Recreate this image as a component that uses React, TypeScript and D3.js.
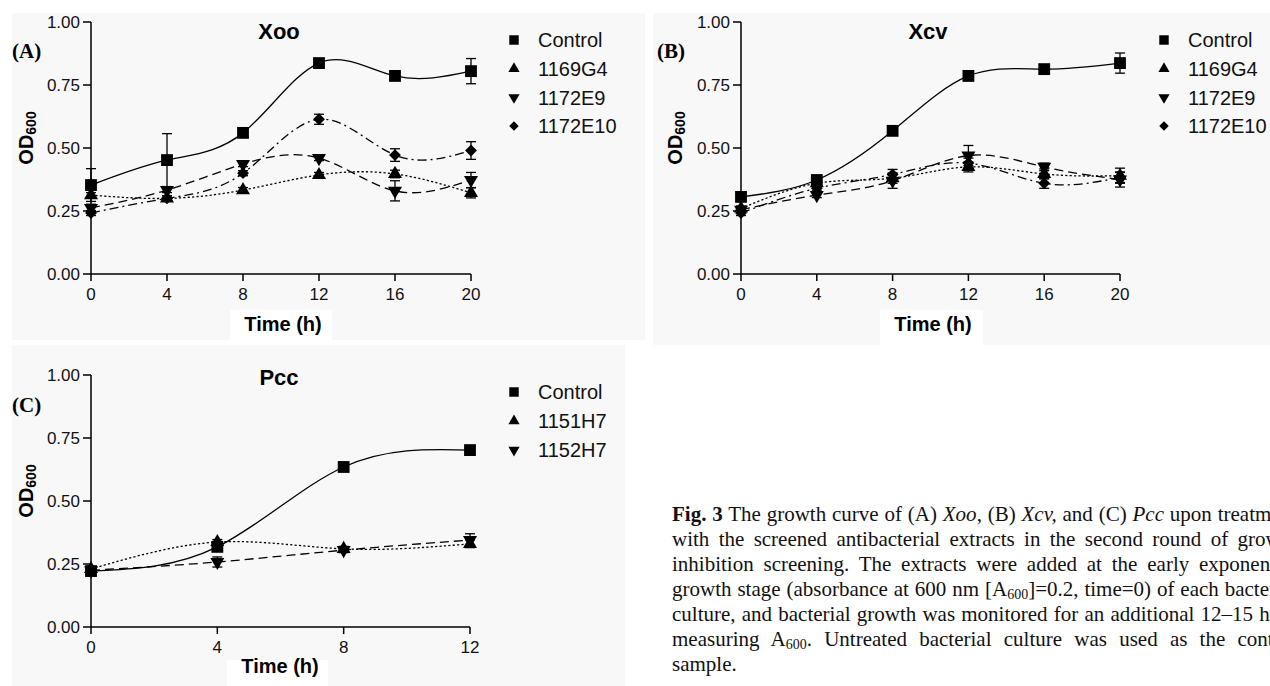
import React, { useLayoutEffect, useRef } from "react";
import * as d3 from "d3";

// ---------- data ----------
const timesAB = [0, 4, 8, 12, 16, 20];
const timesC = [0, 4, 8, 12];
const yTickValues = [0, 0.25, 0.5, 0.75, 1.0];
const xTicksAB = [0, 4, 8, 12, 16, 20];
const xTicksC = [0, 4, 8, 12];

const namesXoo = ["Control", "1169G4", "1172E9", "1172E10"];
const xooControl = [0.353, 0.452, 0.56, 0.837, 0.786, 0.805];
const xooControlErr = [0.065, 0.105, 0.01, 0.01, 0.01, 0.05];
const xoo1169G4 = [0.313, 0.3, 0.333, 0.393, 0.397, 0.322];
const xoo1169G4Err = [0.01, 0.01, 0.01, 0.01, 0.015, 0.02];
const xoo1172E9 = [0.262, 0.333, 0.436, 0.46, 0.33, 0.373];
const xoo1172E9Err = [0.015, 0.01, 0.01, 0.01, 0.04, 0.03];
const xoo1172E10 = [0.242, 0.3, 0.4, 0.614, 0.472, 0.49];
const xoo1172E10Err = [0.01, 0.01, 0.01, 0.02, 0.025, 0.035];

const namesXcv = ["Control", "1169G4", "1172E9", "1172E10"];
const xcvControl = [0.306, 0.373, 0.568, 0.786, 0.813, 0.837];
const xcvControlErr = [0.01, 0.01, 0.01, 0.01, 0.01, 0.04];
const xcv1169G4 = [0.26, 0.36, 0.38, 0.425, 0.397, 0.39];
const xcv1169G4Err = [0.01, 0.01, 0.02, 0.02, 0.02, 0.03];
const xcv1172E9 = [0.255, 0.313, 0.37, 0.47, 0.425, 0.375];
const xcv1172E9Err = [0.01, 0.01, 0.03, 0.04, 0.015, 0.03];
const xcv1172E10 = [0.242, 0.34, 0.395, 0.44, 0.36, 0.383];
const xcv1172E10Err = [0.01, 0.01, 0.02, 0.02, 0.02, 0.02];

const namesPcc = ["Control", "1151H7", "1152H7"];
const pccControl = [0.222, 0.318, 0.635, 0.702];
const pccControlErr = [0.005, 0.01, 0.01, 0.005];
const pcc1151H7 = [0.23, 0.337, 0.31, 0.33];
const pcc1151H7Err = [0.01, 0.01, 0.01, 0.015];
const pcc1152H7 = [0.225, 0.258, 0.305, 0.345];
const pcc1152H7Err = [0.01, 0.02, 0.01, 0.025];

// ---------- styles ----------
type Marker = "square" | "up" | "down" | "diamond";
const styleSets: { marker: Marker; dash: string | null }[] = [
  { marker: "square", dash: null },
  { marker: "up", dash: "2.2,2.2" },
  { marker: "down", dash: "9,5" },
  { marker: "diamond", dash: "9,4,2,4" },
];

const SANS = "Arial, 'Liberation Sans', Helvetica, sans-serif";
const SERIF = "'Times New Roman', 'Liberation Serif', serif";
const BG = "#f8f8f8";

function markerPath(m: Marker, scale = 1): { d: string; rot: number } {
  if (m === "square") return { d: d3.symbol(d3.symbolSquare, 140 * scale * scale)() as string, rot: 0 };
  if (m === "up") return { d: d3.symbol(d3.symbolTriangle, 85 * scale * scale)() as string, rot: 0 };
  if (m === "down") return { d: d3.symbol(d3.symbolTriangle, 85 * scale * scale)() as string, rot: 180 };
  return { d: d3.symbol(d3.symbolSquare, 70 * scale * scale)() as string, rot: 45 };
}

type Series = { name: string; values: number[]; errs: number[] };

type PanelProps = {
  left: number; right: number; top: number; bottom: number;
  xMax: number; xTicks: number[]; times: number[];
  series: Series[];
  title: string; titleX: number; titleY: number;
  letter: string; letterX: number; letterY: number;
  yLabX: number; yLabY: number;
  xLabX: number; xLabY: number;
  bg: [number, number, number, number];
  labBox: [number, number, number, number];
  legX: number; legY: number; legStep: number;
};

function Panel(p: PanelProps) {
  const x = d3.scaleLinear().domain([0, p.xMax]).range([p.left, p.right]);
  const y = d3.scaleLinear().domain([0, 1]).range([p.bottom, p.top]);
  return (
    <g>
      <rect x={p.bg[0]} y={p.bg[1]} width={p.bg[2] - p.bg[0]} height={p.bg[3] - p.bg[1]} fill={BG} />
      <rect x={p.labBox[0]} y={p.labBox[1]} width={p.labBox[2] - p.labBox[0]} height={p.labBox[3] - p.labBox[1]} fill="#ffffff" />
      <line x1={p.left} x2={p.left} y1={y(0)} y2={y(1)} stroke="#000" strokeWidth={1.5} />
      <line x1={p.left} x2={p.right} y1={y(0)} y2={y(0)} stroke="#000" strokeWidth={1.5} />
      {yTickValues.map((t) => (
        <g key={"y" + t}>
          <line x1={p.left - 8} x2={p.left} y1={y(t)} y2={y(t)} stroke="#000" strokeWidth={1.5} />
          <text x={p.left - 11} y={y(t)} dy="0.36em" textAnchor="end" fontFamily={SANS} fontSize={17} fill="#111">
            {t.toFixed(2)}
          </text>
        </g>
      ))}
      {p.xTicks.map((t) => (
        <g key={"x" + t}>
          <line x1={x(t)} x2={x(t)} y1={y(0)} y2={y(0) + 7} stroke="#000" strokeWidth={1.5} />
          <text x={x(t)} y={y(0) + 26} textAnchor="middle" fontFamily={SANS} fontSize={17} fill="#111">
            {t}
          </text>
        </g>
      ))}
      {p.series.map((s, si) => {
        const pts: [number, number][] = p.times.map((t, i) => [x(t), y(s.values[i])]);
        const gen = d3.line().curve(d3.curveNatural);
        const st = styleSets[si];
        return (
          <path key={"l" + si} d={gen(pts) as string} fill="none" stroke="#000" strokeWidth={1.3}
            strokeDasharray={st.dash || undefined} />
        );
      })}
      {p.series.map((s, si) => {
        const st = styleSets[si];
        const mk = markerPath(st.marker);
        return (
          <g key={"m" + si}>
            {p.times.map((t, i) => {
              const cx = x(t);
              const hi = y(s.values[i] + s.errs[i]);
              const lo = y(s.values[i] - s.errs[i]);
              return (
                <g key={i}>
                  <line x1={cx} x2={cx} y1={hi} y2={lo} stroke="#000" strokeWidth={1.3} />
                  <line x1={cx - 5} x2={cx + 5} y1={hi} y2={hi} stroke="#000" strokeWidth={1.3} />
                  <line x1={cx - 5} x2={cx + 5} y1={lo} y2={lo} stroke="#000" strokeWidth={1.3} />
                  <path d={mk.d} transform={`translate(${cx},${y(s.values[i])}) rotate(${mk.rot})`} fill="#000" />
                </g>
              );
            })}
          </g>
        );
      })}
      <text x={p.titleX} y={p.titleY} textAnchor="middle" fontFamily={SANS} fontWeight="bold" fontSize={22} fill="#000">
        {p.title}
      </text>
      <text x={p.letterX} y={p.letterY} fontFamily={SERIF} fontWeight="bold" fontSize={21} fill="#000">
        {p.letter}
      </text>
      <text transform={`translate(${p.yLabX},${p.yLabY}) rotate(-90)`} textAnchor="middle" fontFamily={SANS} fontWeight="bold" fontSize={20} fill="#000">
        OD<tspan fontSize={14} dy={3}>600</tspan>
      </text>
      <text x={p.xLabX} y={p.xLabY} textAnchor="middle" fontFamily={SANS} fontWeight="bold" fontSize={20} fill="#000">
        Time (h)
      </text>
      {p.series.map((s, si) => {
        const mk = markerPath(styleSets[si].marker, 0.8);
        const ly = p.legY + si * p.legStep;
        return (
          <g key={"lg" + si}>
            <path d={mk.d} transform={`translate(${p.legX},${ly}) rotate(${mk.rot})`} fill="#000" />
            <text x={p.legX + 24} y={ly} dy="0.36em" fontFamily={SANS} fontSize={20} fill="#111">
              {s.name}
            </text>
          </g>
        );
      })}
    </g>
  );
}

const captionLines: { parts: { t: string; b?: boolean; i?: boolean; sub?: boolean }[]; justify: boolean }[] = [
  { parts: [{ t: "Fig. 3", b: true }, { t: " The growth curve of (A) " }, { t: "Xoo", i: true }, { t: ", (B) " }, { t: "Xcv,", i: true }, { t: " and (C) " }, { t: "Pcc", i: true }, { t: " upon treatment" }], justify: true },
  { parts: [{ t: "with the screened antibacterial extracts in the second round of growth" }], justify: true },
  { parts: [{ t: "inhibition screening. The extracts were added at the early exponential" }], justify: true },
  { parts: [{ t: "growth stage (absorbance at 600 nm [A" }, { t: "600", sub: true }, { t: "]=0.2, time=0) of each bacterial" }], justify: true },
  { parts: [{ t: "culture, and bacterial growth was monitored for an additional 12–15 h by" }], justify: true },
  { parts: [{ t: "measuring A" }, { t: "600", sub: true }, { t: ". Untreated bacterial culture was used as the control" }], justify: true },
  { parts: [{ t: "sample." }], justify: false },
];

const CAP_X = 672;
const CAP_RIGHT = 1297;

export default function App() {
  const capRefs = useRef<(SVGTextElement | null)[]>([]);
  useLayoutEffect(() => {
    captionLines.forEach((ln, i) => {
      const el = capRefs.current[i];
      if (!el || !ln.justify) return;
      el.setAttribute("word-spacing", "0");
      const len = el.getComputedTextLength();
      const full = ln.parts.map((p) => p.t).join("");
      const spaces = (full.match(/ /g) || []).length;
      const extra = (CAP_RIGHT - CAP_X - len) / Math.max(1, spaces);
      el.setAttribute("word-spacing", String(extra));
    });
  }, []);

  const mk = (vals: number[][], errs: number[][], names: string[]): Series[] =>
    names.map((n, i) => ({ name: n, values: vals[i], errs: errs[i] }));
  const xooSeries = mk([xooControl, xoo1169G4, xoo1172E9, xoo1172E10], [xooControlErr, xoo1169G4Err, xoo1172E9Err, xoo1172E10Err], namesXoo);
  const xcvSeries = mk([xcvControl, xcv1169G4, xcv1172E9, xcv1172E10], [xcvControlErr, xcv1169G4Err, xcv1172E9Err, xcv1172E10Err], namesXcv);
  const pccSeries = mk([pccControl, pcc1151H7, pcc1152H7], [pccControlErr, pcc1151H7Err, pcc1152H7Err], namesPcc);

  return (
    <svg width={1270} height={686} style={{ position: "absolute", left: 0, top: 0, background: "#fff" }}>
      <rect x={0} y={0} width={1270} height={686} fill="#fff" />
      <Panel left={91} right={471} top={22} bottom={274} xMax={20} xTicks={xTicksAB} times={timesAB}
        series={xooSeries} title="Xoo" titleX={279} titleY={39} letter="(A)" letterX={12} letterY={58}
        yLabX={33} yLabY={138} xLabX={283} xLabY={331} bg={[12, 13, 645, 340]} labBox={[230, 310, 332, 340]}
        legX={514} legY={40} legStep={28.7} />
      <Panel left={741} right={1120} top={22} bottom={274} xMax={20} xTicks={xTicksAB} times={timesAB}
        series={xcvSeries} title="Xcv" titleX={928} titleY={39} letter="(B)" letterX={657} letterY={58}
        yLabX={682} yLabY={138} xLabX={933} xLabY={331} bg={[653, 13, 1270, 345]} labBox={[880, 310, 983, 345]}
        legX={1164} legY={40} legStep={28.7} />
      <Panel left={91} right={470} top={375} bottom={627} xMax={12} xTicks={xTicksC} times={timesC}
        series={pccSeries} title="Pcc" titleX={279} titleY={385} letter="(C)" letterX={12} letterY={412}
        yLabX={33} yLabY={491} xLabX={280} xLabY={673} bg={[12, 345, 625, 686]} labBox={[227, 660, 328, 686]}
        legX={514} legY={392} legStep={29} />
      {captionLines.map((ln, li) => (
        <text key={li} ref={(el) => { capRefs.current[li] = el; }} x={CAP_X} y={521 + li * 25}
          fontFamily={SERIF} fontSize={21} fill="#111">
          {ln.parts.map((pt, pi) => (
            <tspan key={pi} fontWeight={pt.b ? "bold" : undefined} fontStyle={pt.i ? "italic" : undefined}
              fontSize={pt.sub ? 14 : undefined} dy={pt.sub ? 3 : pi > 0 && ln.parts[pi - 1].sub ? -3 : undefined}>
              {pt.t}
            </tspan>
          ))}
        </text>
      ))}
    </svg>
  );
}
